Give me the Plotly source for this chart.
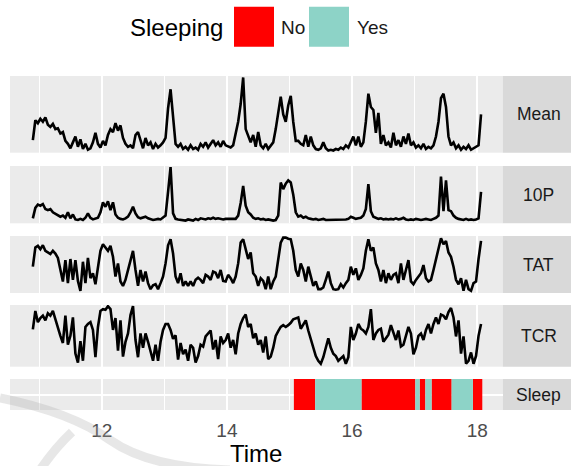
import numpy as np
import plotly.graph_objects as go

# ---------------- data ----------------
t0, dt, n = 10.90, 0.04, 180
time = np.round(t0 + dt * np.arange(n), 2)

mean_vals = [15, 42, 38, 44, 40, 46, 36, 33, 37, 30, 31, 24, 26, 14, 10, 4, 12, 20, 6, 16,
             3, 10, 2, 4, 12, 25, 10, 5, 14, 8, 22, 30, 26, 38, 28, 35, 18, 10, 6, 8,
             4, 22, 26, 14, 4, 18, 8, 12, 3, 10, 5, 8, 12, 18, 58, 84, 50, 10, 6, 10,
             3, 6, 2, 8, 3, 5, 2, 10, 6, 12, 5, 10, 15, 8, 12, 6, 14, 8, 6, 5,
             8, 22, 40, 64, 100, 30, 20, 12, 22, 6, 26, 8, 4, 10, 3, 8, 12, 30, 55, 74,
             50, 40, 62, 75, 40, 14, 14, 10, 8, 22, 6, 20, 8, 3, 2, 4, 12, 4, 1, 2,
             1, 3, 2, 5, 3, 8, 5, 12, 20, 8, 20, 6, 12, 40, 78, 60, 56, 25, 52, 10,
             22, 8, 12, 5, 25, 8, 15, 6, 20, 10, 24, 8, 12, 5, 8, 4, 10, 3, 6, 4,
             8, 20, 40, 72, 78, 60, 20, 8, 12, 4, 8, 2, 6, 3, 8, 2, 4, 6, 8, 50]

p10_vals = [7, 26, 32, 30, 33, 24, 22, 24, 18, 15, 12, 10, 12, 8, 18, 7, 14, 5, 4, 6,
            4, 8, 16, 8, 5, 6, 8, 18, 36, 28, 38, 22, 36, 14, 8, 6, 5, 7, 10, 18,
            28, 16, 9, 7, 8, 10, 7, 5, 4, 5, 6, 5, 8, 12, 55, 100, 16, 6, 5, 4,
            4, 3, 5, 4, 3, 6, 4, 7, 6, 5, 7, 6, 8, 6, 7, 6, 5, 6, 6, 7,
            6, 6, 12, 35, 66, 30, 18, 14, 8, 6, 7, 5, 6, 4, 5, 4, 3, 4, 12, 72,
            60, 70, 76, 72, 50, 18, 10, 12, 8, 10, 7, 6, 5, 6, 4, 5, 6, 4, 4, 5,
            4, 4, 5, 4, 4, 5, 6, 10, 8, 6, 7, 8, 12, 24, 69, 20, 10, 8, 6, 7,
            5, 6, 5, 6, 5, 7, 5, 6, 8, 5, 4, 5, 4, 6, 5, 4, 5, 6, 5, 4,
            6, 8, 12, 83, 20, 76, 22, 20, 12, 8, 6, 5, 4, 6, 4, 5, 4, 5, 7, 55]

tat_vals = [46, 81, 84, 78, 85, 75, 72, 69, 75, 70, 62, 43, 19, 58, 16, 60, 22, 58, 20, 2,
            55, 16, 62, 25, 34, 14, 46, 75, 87, 82, 75, 84, 64, 28, 52, 19, 11, 22, 40, 60,
            75, 40, 11, 40, 19, 37, 16, 5, 12, 14, 5, 16, 28, 52, 85, 96, 70, 28, 16, 34,
            11, 19, 11, 19, 11, 22, 26, 22, 16, 31, 28, 22, 37, 35, 25, 40, 20, 19, 31, 25,
            16, 28, 52, 90, 96, 78, 60, 72, 34, 28, 11, 25, 20, 5, 28, 5, 19, 28, 58, 90,
            99, 99, 97, 96, 75, 40, 28, 52, 40, 19, 46, 28, 11, 19, 5, 5, 8, 22, 37, 16,
            5, 4, 5, 14, 8, 16, 22, 46, 31, 43, 22, 31, 43, 75, 96, 75, 81, 52, 40, 19,
            40, 16, 34, 22, 31, 34, 16, 52, 22, 40, 58, 19, 14, 22, 28, 34, 49, 25, 19, 22,
            40, 58, 75, 98, 87, 93, 72, 64, 46, 22, 14, 25, 2, 22, 5, 2, 16, 19, 60, 93]

tcr_vals = [61, 92, 73, 80, 84, 76, 88, 84, 92, 78, 60, 50, 38, 84, 35, 50, 81, 20, 5, 41,
            8, 65, 70, 73, 60, 14, 65, 92, 95, 94, 100, 95, 60, 80, 25, 76, 15, 40, 54, 85,
            100, 43, 14, 54, 30, 54, 40, 25, 8, 35, 8, 40, 60, 70, 70, 60, 45, 51, 10, 38,
            19, 27, 8, 35, 30, 5, 16, 35, 32, 49, 55, 59, 27, 43, 11, 49, 38, 43, 54, 30,
            43, 19, 54, 70, 80, 86, 65, 70, 46, 54, 35, 43, 22, 49, 11, 15, 30, 50, 58, 65,
            68, 65, 68, 72, 78, 80, 81, 62, 70, 76, 59, 45, 30, 16, 8, 3, 14, 32, 46, 30,
            20, 16, 8, 12, 16, 3, 14, 65, 43, 54, 70, 62, 59, 54, 65, 95, 43, 54, 60, 62,
            40, 46, 52, 68, 55, 43, 59, 32, 35, 49, 65, 54, 19, 30, 50, 54, 43, 60, 70, 54,
            70, 81, 70, 86, 84, 78, 90, 97, 81, 49, 76, 20, 49, 3, 8, 22, 3, 16, 50, 70]

panel_names = ["Mean", "10P", "TAT", "TCR"]
series = [mean_vals, p10_vals, tat_vals, tcr_vals]

sleep_start = [15.07, 15.41, 16.15, 17.01, 17.08, 17.17, 17.27, 17.59, 17.93]
sleep_end = [15.41, 16.15, 17.01, 17.08, 17.17, 17.27, 17.59, 17.93, 18.08]
sleep_state = ["No", "Yes", "No", "Yes", "No", "Yes", "No", "Yes", "No"]
sleep_colors = {"No": "#FF0000", "Yes": "#8DD3C7"}

x_ticks = [12, 14, 16, 18]

# ---------------- layout geometry ----------------
W, H = 571, 466
def py(px):
    return 1 - px / H
def pxp(px):
    return px / W

x_dom = [10 / W, 502.7 / W]
panels_px = [(76, 152.7), (166, 223.3), (236, 293), (305, 366.7)]
sleep_px = (379, 410)
x_range = [10.535, 18.406]

FONT = "Liberation Sans, Arial, sans-serif"
fig = go.Figure()

layout = dict(
    width=W, height=H, margin=dict(l=0, r=0, t=0, b=0),
    paper_bgcolor="white", plot_bgcolor="#EBEBEB",
    showlegend=False, barmode="overlay",
    font=dict(family=FONT),
)

def xaxis_common():
    return dict(
        domain=x_dom, range=x_range, showline=False, zeroline=False,
        tickmode="array", tickvals=x_ticks, ticks="",
        showgrid=True, gridcolor="white", gridwidth=1.6,
        minor=dict(tickmode="array", tickvals=[11, 13, 15, 17], showgrid=True,
                   gridcolor="white", gridwidth=1.2, ticks=""),
    )

shapes, annotations = [], []

for k, (name, vals) in enumerate(zip(panel_names, series)):
    idx = k + 2
    xa, ya = f"x{idx}", f"y{idx}"
    fig.add_trace(go.Scatter(x=time, y=vals, mode="lines", xaxis=xa, yaxis=ya,
                             line=dict(color="black", width=2.6), hoverinfo="skip"))
    top, bot = panels_px[k]
    xd = xaxis_common()
    xd.update(anchor=ya, showticklabels=False, matches="x")
    layout[f"xaxis{idx}"] = xd
    layout[f"yaxis{idx}"] = dict(domain=[py(bot), py(top)], anchor=xa, range=[-2, 102],
                                 showgrid=False, zeroline=False, showticklabels=False,
                                 ticks="", showline=False)
    shapes.append(dict(type="rect", xref="paper", yref="paper", x0=502.7 / W, x1=1.0,
                       y0=py(bot), y1=py(top), fillcolor="#D9D9D9", line=dict(width=0),
                       layer="below"))
    annotations.append(dict(text=name, xref="paper", yref="paper", x=538.7 / W,
                            y=py((top + bot) / 2), showarrow=False, xanchor="center",
                            yanchor="middle", font=dict(size=17.5, color="#1A1A1A")))

# sleep panel (bars from data)
for state in ["No", "Yes"]:
    st = [s for s, z in zip(sleep_start, sleep_state) if z == state]
    en = [e for e, z in zip(sleep_end, sleep_state) if z == state]
    fig.add_trace(go.Bar(
        y=[0] * len(st), x=[e - s for s, e in zip(st, en)], base=st,
        orientation="h", width=1.0, marker=dict(color=sleep_colors[state], line=dict(width=0)),
        name=state, xaxis="x", yaxis="y", hoverinfo="skip"))

xd = xaxis_common()
xd.update(anchor="y", showticklabels=True, ticklabelstandoff=7,
          tickfont=dict(size=19, color="#4D4D4D", family=FONT))
layout["xaxis"] = xd
layout["yaxis"] = dict(domain=[py(sleep_px[1]), py(sleep_px[0])], anchor="x",
                       range=[-0.5, 0.5], tickmode="array", tickvals=[0],
                       showticklabels=False, ticks="", showgrid=True, gridcolor="white",
                       gridwidth=2, zeroline=False, showline=False)
shapes.append(dict(type="rect", xref="paper", yref="paper", x0=502.7 / W, x1=1.0,
                   y0=py(sleep_px[1]), y1=py(sleep_px[0]), fillcolor="#D9D9D9",
                   line=dict(width=0), layer="below"))
annotations.append(dict(text="Sleep", xref="paper", yref="paper", x=538.7 / W,
                        y=py(sum(sleep_px) / 2), showarrow=False, xanchor="center",
                        yanchor="middle", font=dict(size=17.5, color="#1A1A1A")))

# axis title
annotations.append(dict(text="Time", xref="paper", yref="paper", x=256.3 / W, y=py(453),
                        showarrow=False, xanchor="center", yanchor="middle",
                        font=dict(size=24, color="black")))

# legend (drawn manually to match big key boxes)
annotations.append(dict(text="Sleeping", xref="paper", yref="paper", x=128 / W, y=py(28),
                        showarrow=False, xanchor="left", yanchor="middle",
                        font=dict(size=24, color="black")))
for state, (x0, x1), lx in [("No", (234, 274), 279), ("Yes", (309, 349), 355)]:
    shapes.append(dict(type="rect", xref="paper", yref="paper", x0=x0 / W, x1=x1 / W,
                       y0=py(46.7), y1=py(6.7), fillcolor=sleep_colors[state],
                       line=dict(width=0)))
    annotations.append(dict(text=state, xref="paper", yref="paper", x=lx / W, y=py(28),
                            showarrow=False, xanchor="left", yanchor="middle",
                            font=dict(size=19, color="#1A1A1A")))

# faint background watermark arcs seen in the source image
arc1 = (f"M {pxp(0)},{py(398)} Q {pxp(70)},{py(412)} {pxp(110)},{py(440)} "
        f"T {pxp(230)},{py(470)}")
arc2 = f"M {pxp(72)},{py(432)} Q {pxp(55)},{py(448)} {pxp(40)},{py(470)}"
for p in (arc1, arc2):
    shapes.append(dict(type="path", xref="paper", yref="paper", path=p,
                       line=dict(color="rgba(170,170,170,0.28)", width=9), layer="above"))

layout["shapes"] = shapes
layout["annotations"] = annotations
fig.update_layout(**layout)
fig.write_html("out.html", config={"displayModeBar": False},
               post_script="document.body.style.margin='0';")
